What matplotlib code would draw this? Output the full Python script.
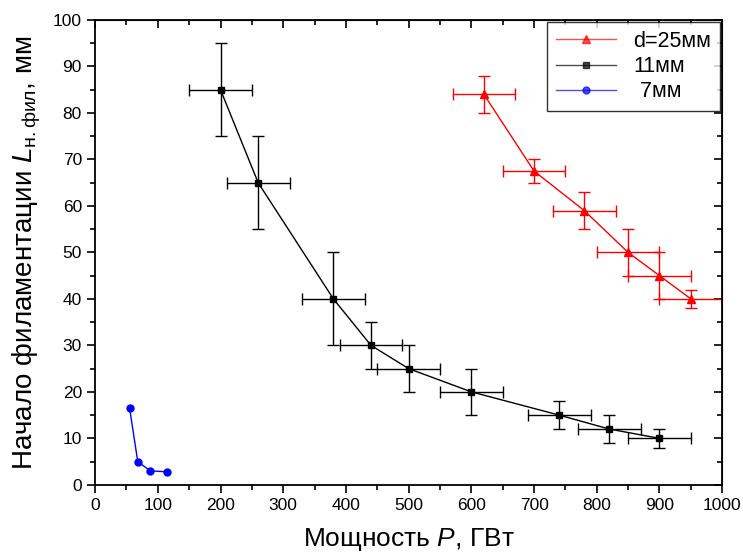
import matplotlib
matplotlib.use('Agg')
import matplotlib.pyplot as plt
from matplotlib.ticker import MultipleLocator

plt.rcParams['font.family'] = 'Liberation Sans'
plt.rcParams['mathtext.fontset'] = 'custom'
plt.rcParams['mathtext.rm'] = 'Liberation Sans'
plt.rcParams['mathtext.it'] = 'Liberation Sans:italic'

# d = 25 mm
p25 = [620, 700, 780, 850, 900, 950]
l25 = [84, 67.5, 59, 50, 45, 40]
xe25 = [50, 50, 50, 50, 50, 50]
ye25 = [4, 2.5, 4, 5, 5, 2]

# d = 11 mm
p11 = [200, 260, 380, 440, 500, 600, 740, 820, 900]
l11 = [85, 65, 40, 30, 25, 20, 15, 12, 10]
xe11 = [50, 50, 50, 50, 50, 50, 50, 50, 50]
ye11 = [10, 10, 10, 5, 5, 5, 3, 3, 2]

# d = 7 mm
p7 = [55, 68, 88, 115]
l7 = [16.5, 5, 3, 2.8]

fig = plt.figure(figsize=(7.43, 5.56), dpi=100)
ax = fig.add_axes([0.128, 0.128, 0.844, 0.836])

e25 = ax.errorbar(p25, l25, xerr=xe25, yerr=ye25, color='red', marker='^', ms=6,
                  lw=1, elinewidth=1, capsize=4)
e11 = ax.errorbar(p11, l11, xerr=xe11, yerr=ye11, color='black', marker='s', ms=4.5,
                  lw=1, elinewidth=1, capsize=4)
h7, = ax.plot(p7, l7, color='blue', marker='o', ms=5, lw=1)

ax.set_xlim(0, 1000)
ax.set_ylim(0, 100)
ax.xaxis.set_major_locator(MultipleLocator(100))
ax.xaxis.set_minor_locator(MultipleLocator(50))
ax.yaxis.set_major_locator(MultipleLocator(10))
ax.yaxis.set_minor_locator(MultipleLocator(5))
ax.tick_params(which='both', direction='out', labelsize=12.5, width=1.2)
ax.tick_params(which='major', length=6)
ax.tick_params(which='minor', length=3.5)
for s in ax.spines.values():
    s.set_linewidth(1.3)

ax2 = ax.secondary_xaxis('top')
ax2.xaxis.set_major_locator(MultipleLocator(100))
ax2.xaxis.set_minor_locator(MultipleLocator(50))
ax2.tick_params(which='both', direction='in', labeltop=False, width=1.2)
ax2.tick_params(which='major', length=6)
ax2.tick_params(which='minor', length=3.5)
ay2 = ax.secondary_yaxis('right')
ay2.yaxis.set_major_locator(MultipleLocator(10))
ay2.yaxis.set_minor_locator(MultipleLocator(5))
ay2.tick_params(which='both', direction='in', labelright=False, width=1.2)
ay2.tick_params(which='major', length=6)
ay2.tick_params(which='minor', length=3.5)

ax.set_xlabel(r'Мощность $\mathit{P}$, ГВт', fontsize=19, labelpad=9)
ax.set_ylabel(r'Начало филаментации $\mathit{L}_{\mathrm{н{.}фил}}$, мм', fontsize=20, labelpad=7)

leg = ax.legend([e25[0], e11[0], h7], ['d=25мм', '11мм', ' 7мм'],
                loc='upper right', fontsize=15.5, frameon=True, fancybox=False,
                edgecolor='black', handlelength=2.8, borderaxespad=0.1,
                labelspacing=0.2)
leg.get_frame().set_linewidth(1.0)
for h in leg.get_lines():
    h.set_alpha(0.7)

fig.savefig('out.png', dpi=100)
